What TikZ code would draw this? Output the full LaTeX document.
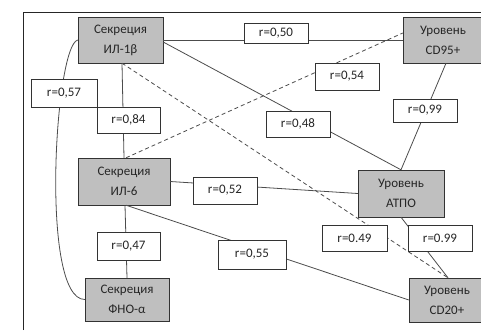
\documentclass[tikz,border=0pt]{standalone}
\usepackage{fontspec}
\setmainfont{Carlito}

\tikzset{
  factor/.style={draw=black!80, fill=black!25, align=center, inner sep=0pt,
    font=\fontsize{13}{20}\selectfont, text=black!85},
  coef/.style={draw=black!80, fill=white, inner sep=0pt,
    font=\fontsize{13}{15}\selectfont, text=black!85},
  link/.style={draw=black!70, line width=0.8pt},
  weak/.style={link, dash pattern=on 4pt off 3pt}
}

\begin{document}
\begin{tikzpicture}[x=1pt, y=-1pt]
    \useasboundingbox (0,0) rectangle (481,330);
    % Frame
    \draw[black!85, line width=0.9pt] (23,330) -- (23,12) -- (481,12);

    % Factors
    \node[factor, minimum width=85pt, minimum height=46pt] (il1b) at (120.5,40) {Секреция\\ИЛ-1β};
    \node[factor, minimum width=80pt, minimum height=46pt] (cd95) at (443,40) {Уровень\\CD95+};
    \node[factor, minimum width=92pt, minimum height=47pt] (il6) at (124,181.5) {Секреция\\ИЛ-6};
    \node[factor, minimum width=86pt, minimum height=47pt] (atpo) at (401,193.5) {Уровень\\АТПО};
    \node[factor, minimum width=84pt, minimum height=43pt] (fno) at (127,299.5) {Секреция\\ФНО-α};
    \node[factor, minimum width=76pt, minimum height=44pt] (cd20) at (447,300) {Уровень\\CD20+};

    % Links
    \draw[link] (il1b.east) -- (cd95.west);
    \draw[link] ([yshift=-2pt]il1b.east) -- (atpo.north);
    \draw[link] ([xshift=3pt]cd95.south) -- (atpo.north);
    \draw[link] ([xshift=1.5pt]il1b.south) -- (il6.north);
    \draw[weak] ([xshift=1.5pt]il1b.south) -- ([xshift=1pt]cd20.north);
    \draw[weak] ([xshift=2pt]il6.north) -- ([yshift=7pt]cd95.west);
    \draw[link] (il6.east) -- (atpo.west);
    \draw[link] ([xshift=1pt]il6.south) -- (fno.north);
    \draw[link] ([xshift=2pt]il6.south) -- (cd20.west);
    \draw[link] (atpo.south) -- ([xshift=1pt]cd20.north);
    \draw[link] (il1b.west) .. controls +(-23,5) and +(-45,0) .. (fno.west);

    % Coefficients
    \node[coef, minimum width=66pt, minimum height=28pt] (r57) at (64,93) {r=0,57};
    \node[coef, minimum width=63pt, minimum height=26pt] (r84) at (128.5,120) {r=0,84};
    \node[coef, minimum width=64pt, minimum height=20pt] (r50) at (276,33) {r=0,50};
    \node[coef, minimum width=64pt, minimum height=27pt] (r54) at (347,76.5) {r=0,54};
    \node[coef, minimum width=64pt, minimum height=26pt] (r48) at (298,124) {r=0,48};
    \node[coef, minimum width=64pt, minimum height=23pt] (r99a) at (425,110.5) {r=0,99};
    \node[coef, minimum width=64pt, minimum height=27pt] (r52) at (225,190.5) {r=0,52};
    \node[coef, minimum width=63pt, minimum height=28pt] (r47) at (128.5,246) {r=0,47};
    \node[coef, minimum width=68pt, minimum height=29pt] (r55) at (252,254.5) {r=0,55};
    \node[coef, minimum width=65pt, minimum height=26pt] (r49) at (354.5,238) {r=0.49};
    \node[coef, minimum width=64pt, minimum height=26pt] (r99b) at (440,238) {r=0.99};
\end{tikzpicture}
\end{document}
